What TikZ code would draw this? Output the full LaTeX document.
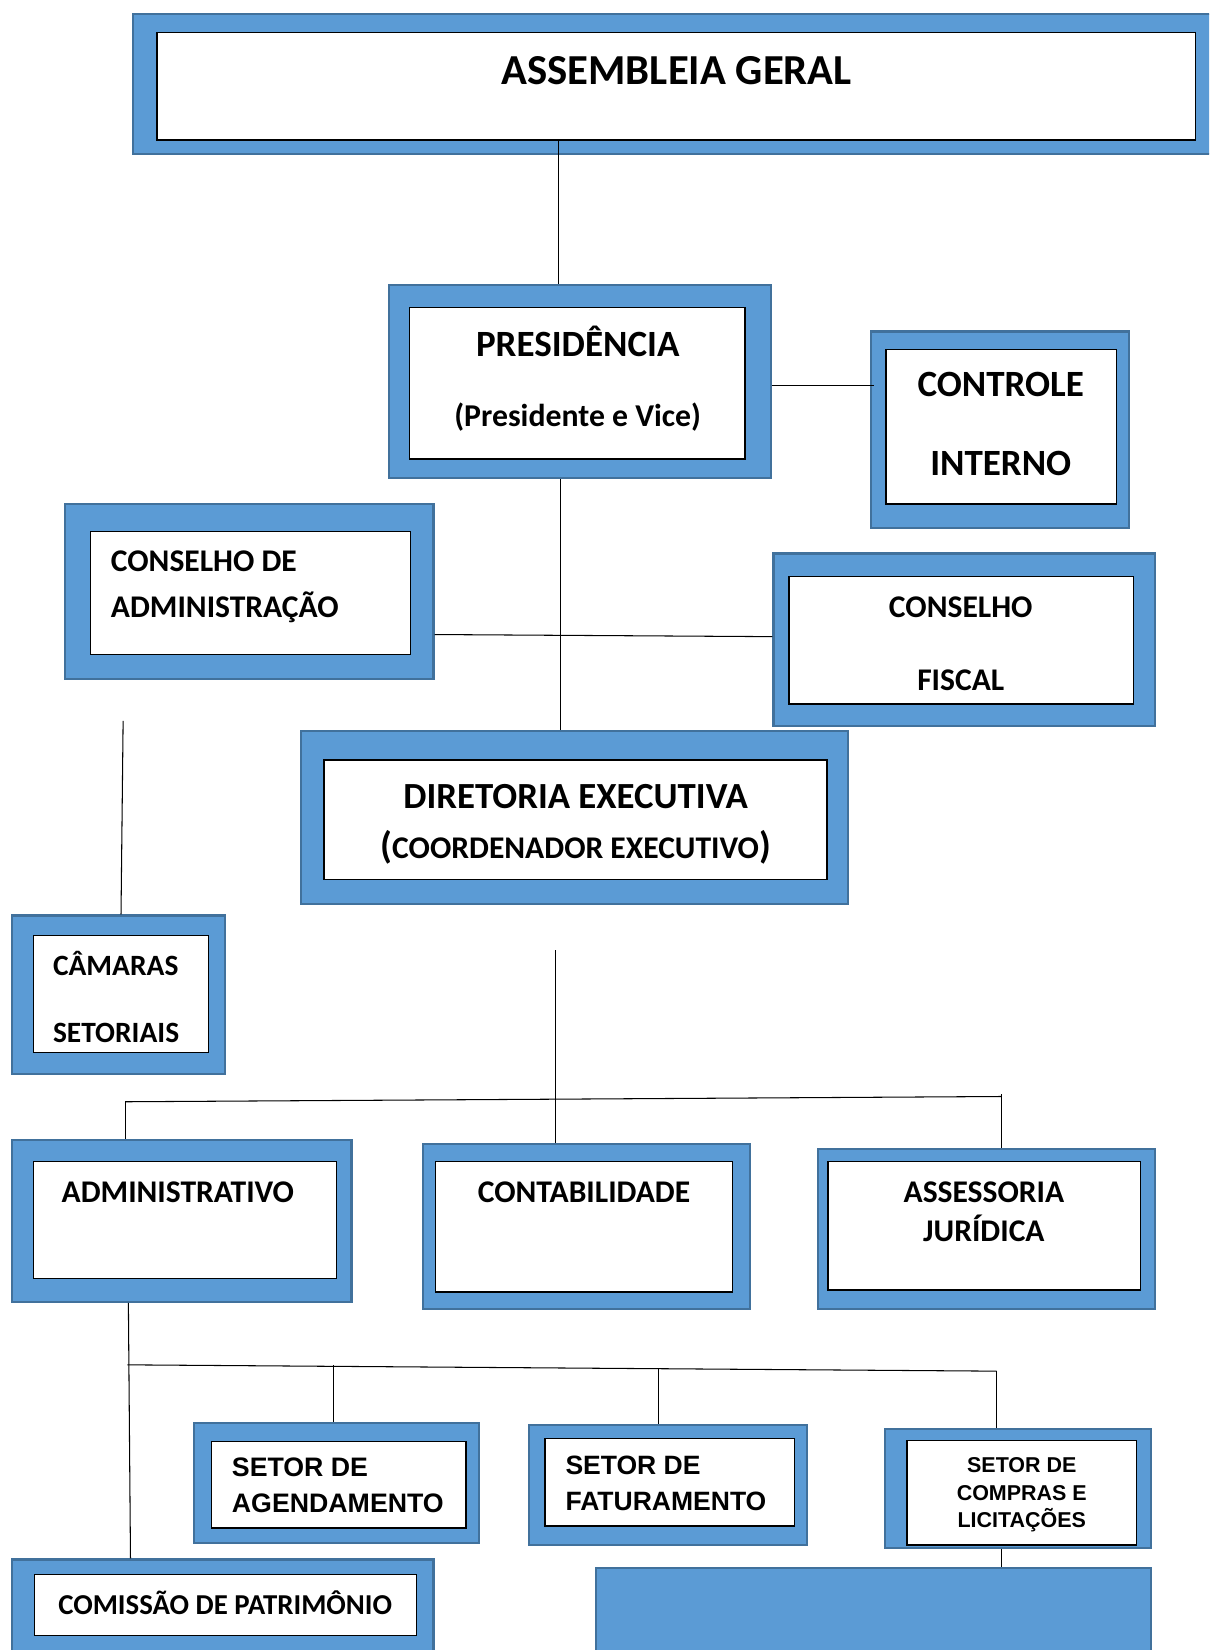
\documentclass[tikz,border=0pt]{standalone}
\usepackage{fontspec}
\setmainfont{Carlito}
\newfontfamily\arialf{Liberation Sans}
\usetikzlibrary{fit}
\definecolor{boxblue}{HTML}{5B9BD5}
\definecolor{boxedge}{HTML}{41719C}
\newcommand\fsz[1]{\fontsize{#1pt}{#1pt}\selectfont}
\tikzset{
  outerbox/.style={draw=boxedge, fill=boxblue, line width=1pt, inner sep=0pt},
  innerbox/.style={draw=black, fill=white, line width=0.7pt, inner sep=0pt},
  lbl/.style={inner sep=0pt, anchor=base, text=black},
  lbll/.style={inner sep=0pt, anchor=base west, text=black},
  conn/.style={draw=black, line width=0.5pt}
}
\begin{document}
\begin{tikzpicture}[x=0.5pt,y=-0.5pt]
\useasboundingbox (0,0) rectangle (1149,1568);
\clip (0,0) rectangle (1149,1568);

% ---------- boxes ----------
% Assembleia
\node[outerbox, fit={(126,13) (1170,146)}] (asmO) {};
\node[innerbox, fit={(149,31) (1136,133)}] (asmI) {};
\node[lbl, font=\bfseries\fsz{20.3}] (asmT) at (643,80) {ASSEMBLEIA GERAL};

% Presidencia
\node[outerbox, fit={(370,271) (733,454)}] (presO) {};
\node[innerbox, fit={(389,292) (708,436)}] (presI) {};
\node[lbl, font=\bfseries\fsz{17.6}] (presT1) at (549,339) {PRESIDÊNCIA};
\node[lbl, font=\bfseries\fsz{15.1}] (presT2) at (549,405) {(Presidente e Vice)};

% Controle interno
\node[outerbox, fit={(828,315) (1073,502)}] (ctrlO) {};
\node[innerbox, fit={(842,332) (1061,479)}] (ctrlI) {};
\node[lbl, font=\bfseries\fsz{17.6}] (ctrlT1) at (951,377) {CONTROLE};
\node[lbl, font=\bfseries\fsz{17.6}] (ctrlT2) at (951,452) {INTERNO};

% Conselho de administracao
\node[outerbox, fit={(62,479) (412,645)}] (cadO) {};
\node[innerbox, fit={(86,505) (390,622)}] (cadI) {};
\node[lbll, font=\bfseries\fsz{15}] (cadT1) at (105,543) {CONSELHO DE};
\node[lbll, font=\bfseries\fsz{15}] (cadT2) at (105,587) {ADMINISTRAÇÃO};

% Conselho fiscal
\node[outerbox, fit={(735,526) (1098,690)}] (cfO) {};
\node[innerbox, fit={(750,548) (1077,669)}] (cfI) {};
\node[lbl, font=\bfseries\fsz{15}] (cfT1) at (913,587) {CONSELHO};
\node[lbl, font=\bfseries\fsz{15}] (cfT2) at (913,656) {FISCAL};

% Diretoria executiva
\node[outerbox, fit={(286,695) (806,859)}] (dirO) {};
\node[innerbox, fit={(308,722) (786,836)}] (dirI) {};
\node[lbl, font=\bfseries\fsz{17.5}] (dirT1) at (547,768) {DIRETORIA EXECUTIVA};
\node[lbl, font=\bfseries\fsz{15}] (dirT2) at (547,816) {{\fsz{18}(}COORDENADOR EXECUTIVO{\fsz{18})}};

% Camaras setoriais
\node[outerbox, fit={(11,870) (214,1021)}] (camO) {};
\node[innerbox, fit={(32,889) (198,1000)}] (camI) {};
\node[lbll, font=\bfseries\fsz{14}] (camT1) at (50,927) {CÂMARAS};
\node[lbll, font=\bfseries\fsz{14}] (camT2) at (50,991) {SETORIAIS};

% Administrativo
\node[outerbox, fit={(11,1083) (334,1237)}] (admO) {};
\node[innerbox, fit={(32,1104) (320,1215)}] (admI) {};
\node[lbl, font=\bfseries\fsz{15}] (admT) at (169,1143) {ADMINISTRATIVO};

% Contabilidade
\node[outerbox, fit={(402,1087) (713,1244)}] (contO) {};
\node[innerbox, fit={(414,1104) (696,1228)}] (contI) {};
\node[lbl, font=\bfseries\fsz{15}] (contT) at (555,1143) {CONTABILIDADE};

% Assessoria juridica
\node[outerbox, fit={(777,1092) (1098,1244)}] (assO) {};
\node[innerbox, fit={(787,1104) (1084,1226)}] (assI) {};
\node[lbl, font=\bfseries\fsz{15}] (assT1) at (935,1143) {ASSESSORIA};
\node[lbl, font=\bfseries\fsz{15}] (assT2) at (935,1180) {JURÍDICA};

% Setor de agendamento
\node[outerbox, fit={(184,1352) (455,1466)}] (agO) {};
\node[innerbox, fit={(201,1370) (443,1452)}] (agI) {};
\node[lbll, font=\arialf\bfseries\fsz{12.7}] (agT1) at (220,1403) {SETOR DE};
\node[lbll, font=\arialf\bfseries\fsz{12.7}] (agT2) at (220,1437) {AGENDAMENTO};

% Setor de faturamento
\node[outerbox, fit={(503,1354) (767,1468)}] (fatO) {};
\node[innerbox, fit={(518,1367) (755,1450)}] (fatI) {};
\node[lbll, font=\arialf\bfseries\fsz{12.6}] (fatT1) at (537,1401) {SETOR DE};
\node[lbll, font=\arialf\bfseries\fsz{12.6}] (fatT2) at (537,1435) {FATURAMENTO};

% Setor de compras
\node[outerbox, fit={(841,1358) (1094,1471)}] (compO) {};
\node[innerbox, fit={(862,1369) (1080,1468)}] (compI) {};
\node[lbl, font=\arialf\bfseries\fsz{10.2}] (compT1) at (971,1399) {SETOR DE};
\node[lbl, font=\arialf\bfseries\fsz{10.2}] (compT2) at (971,1426) {COMPRAS E};
\node[lbl, font=\arialf\bfseries\fsz{10.2}] (compT3) at (971,1452) {LICITAÇÕES};

% Blue box bottom right
\node[outerbox, fit={(566,1490) (1094,1600)}] (blueO) {};

% Comissao de patrimonio
\node[outerbox, fit={(11,1482) (412,1600)}] (comO) {};
\node[innerbox, fit={(33,1496) (396,1554)}] (comI) {};
\node[lbl, font=\bfseries\fsz{13.7}] (comT) at (214,1534) {COMISSÃO DE PATRIMÔNIO};

% ---------- connectors ----------
\coordinate (xA) at (531,0);
\draw[conn] (asmI.south -| xA) -- (presO.north -| xA);

\coordinate (yPC) at (0,366);
\draw[conn] (presO.east |- yPC) -- ([xshift=2pt]ctrlO.west |- yPC);

\coordinate (xB) at (533,0);
\draw[conn] (presO.south -| xB) -- (dirO.north -| xB);

\coordinate (yL) at (0,603);
\coordinate (yR) at (0,605);
\draw[conn] (cadO.east |- yL) -- (cfO.west |- yR);

\coordinate (camTop) at (117,685);
\coordinate (xC) at (115,0);
\draw[conn] (camTop) -- (camO.north -| xC);

\coordinate (dirDown) at (528,903);
\draw[conn] (dirDown) -- (contO.north -| dirDown);

\coordinate (busL) at (119,1047);
\coordinate (busR) at (952,1042);
\coordinate (busRtop) at (952,1040);
\draw[conn] (busL) -- (busR);
\draw[conn] (busL) -- (admO.north -| busL);
\draw[conn] (busRtop) -- (assO.north -| busRtop);

\coordinate (admDown) at (122,0);
\coordinate (comUp) at (124,0);
\draw[conn] (admO.south -| admDown) -- (comO.north -| comUp);

\coordinate (bus2L) at (121,1297);
\coordinate (bus2R) at (947,1303);
\coordinate (tAg) at (317,1297);
\coordinate (tFat) at (626,1301);
\draw[conn] (bus2L) -- (bus2R);
\draw[conn] (tAg) -- (agO.north -| tAg);
\draw[conn] (tFat) -- (fatO.north -| tFat);
\draw[conn] (bus2R) -- (compO.north -| bus2R);

\coordinate (xD) at (952,0);
\draw[conn] (compO.south -| xD) -- (blueO.north -| xD);
\end{tikzpicture}
\end{document}
